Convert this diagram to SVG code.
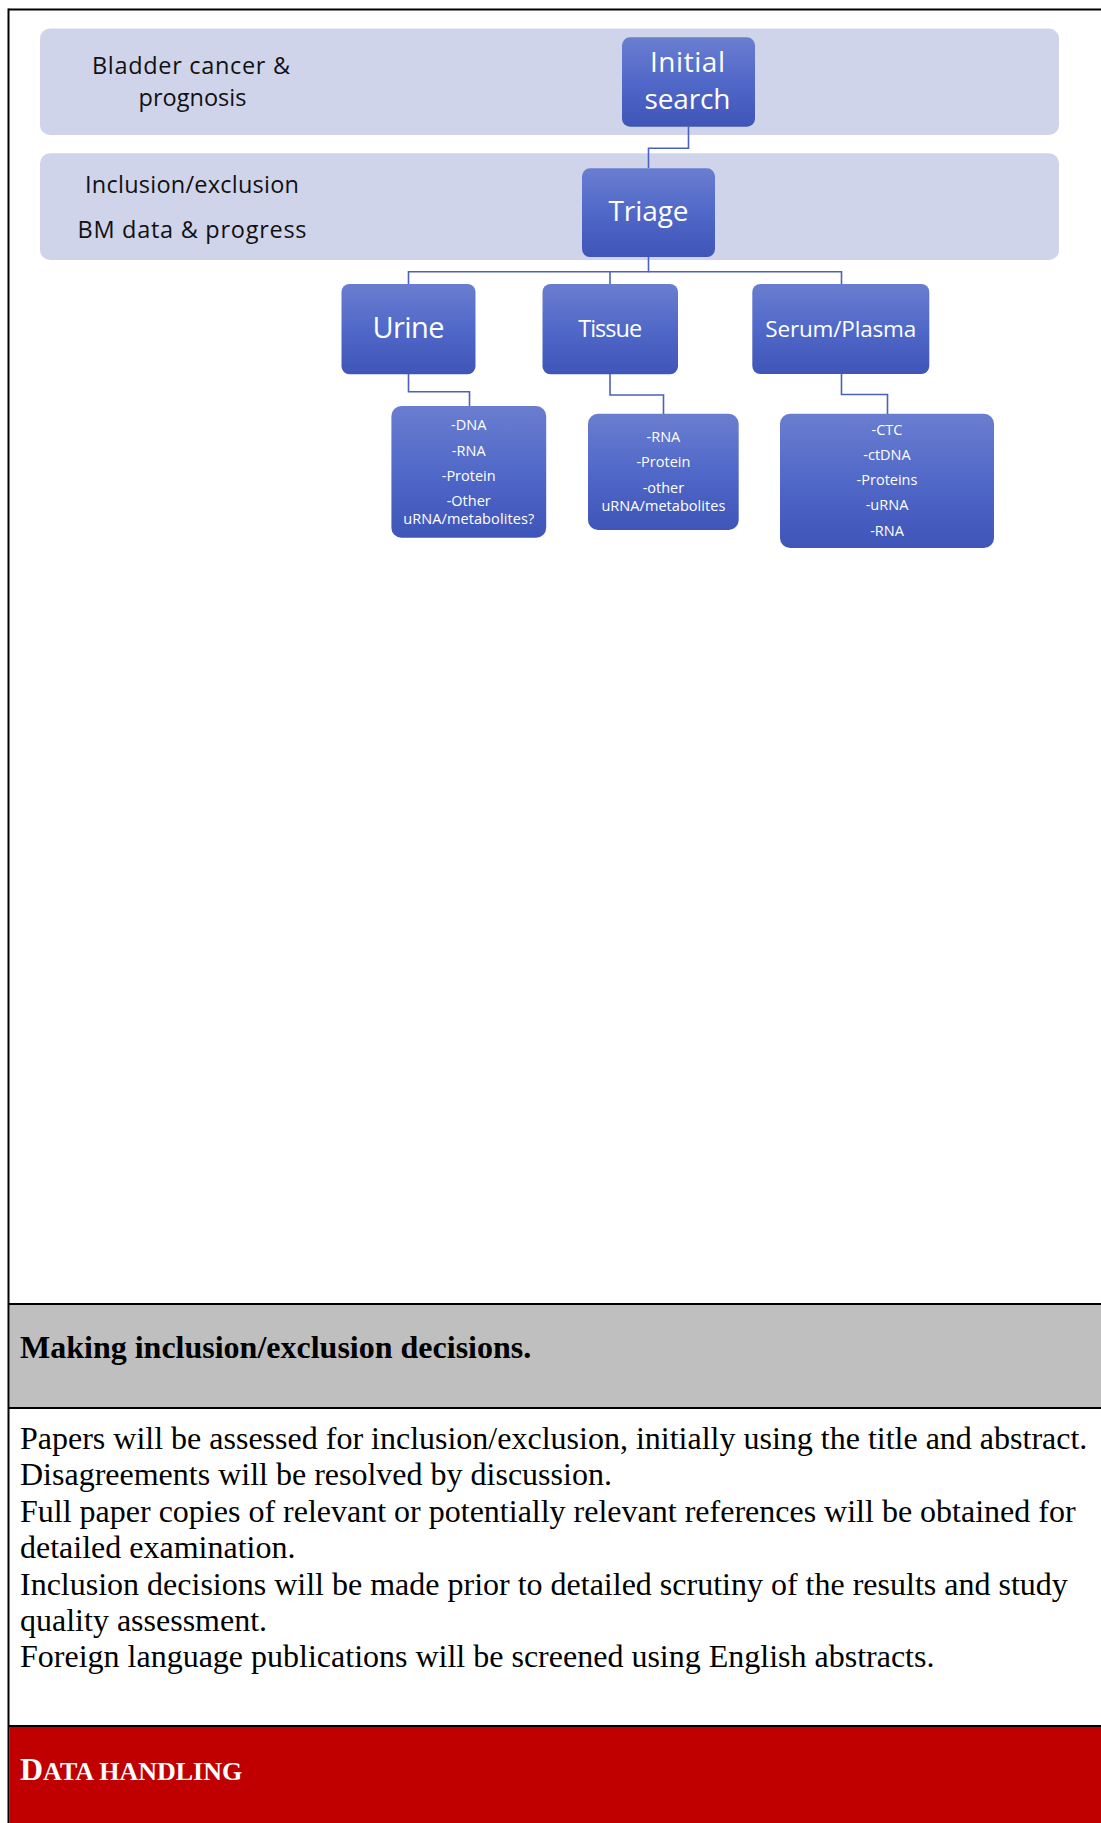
<svg xmlns="http://www.w3.org/2000/svg" width="1101" height="1823" viewBox="0 0 1101 1823">
  <defs>
    <linearGradient id="nodeGrad" x1="0" y1="0" x2="0" y2="1">
      <stop offset="0" stop-color="#6A7ED0"/>
      <stop offset="0.5" stop-color="#5068C8"/>
      <stop offset="1" stop-color="#3F55B8"/>
    </linearGradient>
    <style>
      .band { fill: #CFD4EA; }
      .node { fill: url(#nodeGrad); }
      .conn { fill: none; stroke: #4A62BD; stroke-width: 1.6; }
      .lbl { font-family: "Open Sans", "Liberation Sans", sans-serif; fill: #111111; text-anchor: middle; }
      .ntxt { font-family: "Open Sans", "Liberation Sans", sans-serif; fill: #FFFFFF; text-anchor: middle; }
      .sub { font-family: "Open Sans", "Liberation Sans", sans-serif; fill: #FFFFFF; text-anchor: middle; font-size: 14.5px; font-weight: 500; }
      .rule { stroke: #000000; stroke-width: 2; fill: none; }
      .body { font-family: "Liberation Serif", "Times New Roman", serif; font-size: 32px; fill: #000000; }
      .head { font-family: "Liberation Serif", "Times New Roman", serif; font-size: 32px; font-weight: bold; fill: #000000; }
      .red { font-family: "Liberation Serif", "Times New Roman", serif; font-weight: bold; fill: #FFFFFF; }
    </style>
  </defs>

  <rect x="0" y="0" width="1101" height="1823" fill="#FFFFFF"/>

  <!-- table structure -->
  <g id="table">
    <rect x="9.5" y="1305" width="1091.5" height="102" fill="#BFBFBF"/>
    <rect x="9.5" y="1727" width="1091.5" height="96" fill="#C00000"/>
    <line class="rule" x1="8.5" y1="9.5" x2="1101" y2="9.5" stroke-width="1.5"/>
    <line class="rule" x1="8.5" y1="8.5" x2="8.5" y2="1823"/>
    <line class="rule" x1="8.5" y1="1304" x2="1101" y2="1304"/>
    <line class="rule" x1="8.5" y1="1408" x2="1101" y2="1408"/>
    <line class="rule" x1="8.5" y1="1726" x2="1101" y2="1726"/>
  </g>

  <!-- background bands -->
  <g id="band-search">
    <rect class="band" x="40" y="28.5" width="1019" height="106.5" rx="10"/>
    <text class="lbl" x="191" y="74.3" font-size="23.5" textLength="198">Bladder cancer &amp;</text>
    <text class="lbl" x="192.5" y="105.7" font-size="23.5" textLength="108">prognosis</text>
  </g>
  <g id="band-triage">
    <rect class="band" x="40" y="153.3" width="1019" height="106.7" rx="10"/>
    <text class="lbl" x="192" y="193.3" font-size="23.5" textLength="214">Inclusion/exclusion</text>
    <text class="lbl" x="192" y="238.3" font-size="23.5" textLength="229">BM data &amp; progress</text>
  </g>

  <!-- connectors -->
  <g id="connectors">
    <path class="conn" d="M688.5,126.5 V148.3 H648.5 V168"/>
    <path class="conn" d="M648.5,257 V271.7 H408.5 V284"/>
    <path class="conn" d="M610,271.7 V284"/>
    <path class="conn" d="M648.5,271.7 H841.5 V284"/>
    <path class="conn" d="M408.5,374 V391.7 H469.5 V406"/>
    <path class="conn" d="M610,374 V395 H663.5 V414"/>
    <path class="conn" d="M841.5,374 V394.5 H887.5 V414"/>
  </g>

  <!-- nodes -->
  <g id="node-initial-search">
    <rect class="node" x="622" y="37.3" width="133" height="89.4" rx="8"/>
    <text class="ntxt" x="687.5" y="71.7" font-size="28" textLength="75">Initial</text>
    <text class="ntxt" x="687.5" y="109" font-size="28" textLength="86">search</text>
  </g>
  <g id="node-triage">
    <rect class="node" x="582" y="168.3" width="133" height="88.7" rx="8"/>
    <text class="ntxt" x="648.5" y="220.5" font-size="28" textLength="80">Triage</text>
  </g>
  <g id="node-urine">
    <rect class="node" x="341.5" y="284" width="134" height="90.3" rx="8"/>
    <text class="ntxt" x="408.5" y="338.3" font-size="29" textLength="72">Urine</text>
  </g>
  <g id="node-tissue">
    <rect class="node" x="542.5" y="284" width="135.5" height="90.3" rx="8"/>
    <text class="ntxt" x="610.2" y="337.3" font-size="23.5" textLength="64">Tissue</text>
  </g>
  <g id="node-serum-plasma">
    <rect class="node" x="752.3" y="284" width="177" height="90" rx="8"/>
    <text class="ntxt" x="840.8" y="336.8" font-size="22.5" textLength="151">Serum/Plasma</text>
  </g>
  <g id="node-urine-markers">
    <rect class="node" x="391.4" y="406" width="154.8" height="131.7" rx="10"/>
    <text class="sub" x="468.7" y="430">-DNA</text>
    <text class="sub" x="468.7" y="455.7">-RNA</text>
    <text class="sub" x="468.7" y="481">-Protein</text>
    <text class="sub" x="468.7" y="505.7">-Other</text>
    <text class="sub" x="468.7" y="523.7" textLength="131">uRNA/metabolites?</text>
  </g>
  <g id="node-tissue-markers">
    <rect class="node" x="588" y="413.7" width="150.7" height="116.3" rx="10"/>
    <text class="sub" x="663.4" y="441.7">-RNA</text>
    <text class="sub" x="663.4" y="467">-Protein</text>
    <text class="sub" x="663.4" y="493">-other</text>
    <text class="sub" x="663.4" y="510.7" textLength="124">uRNA/metabolites</text>
  </g>
  <g id="node-serum-markers">
    <rect class="node" x="780" y="413.7" width="214" height="134.3" rx="10"/>
    <text class="sub" x="887" y="435">-CTC</text>
    <text class="sub" x="887" y="460">-ctDNA</text>
    <text class="sub" x="887" y="485.3">-Proteins</text>
    <text class="sub" x="887" y="510.3">-uRNA</text>
    <text class="sub" x="887" y="535.7">-RNA</text>
  </g>

  <!-- text sections -->
  <g id="section-decisions">
    <text class="head" x="20" y="1358">Making inclusion/exclusion decisions.</text>
    <text class="body" x="20" y="1449">Papers will be assessed for inclusion/exclusion, initially using the title and abstract.</text>
    <text class="body" x="20" y="1485.4">Disagreements will be resolved by discussion.</text>
    <text class="body" x="20" y="1521.8">Full paper copies of relevant or potentially relevant references will be obtained for</text>
    <text class="body" x="20" y="1558.2">detailed examination.</text>
    <text class="body" x="20" y="1594.6">Inclusion decisions will be made prior to detailed scrutiny of the results and study</text>
    <text class="body" x="20" y="1631">quality assessment.</text>
    <text class="body" x="20" y="1667.4">Foreign language publications will be screened using English abstracts.</text>
  </g>
  <g id="section-data-handling">
    <text class="red" x="20" y="1779.5"><tspan font-size="32">D</tspan><tspan font-size="26">ATA HANDLING</tspan></text>
  </g>
</svg>
